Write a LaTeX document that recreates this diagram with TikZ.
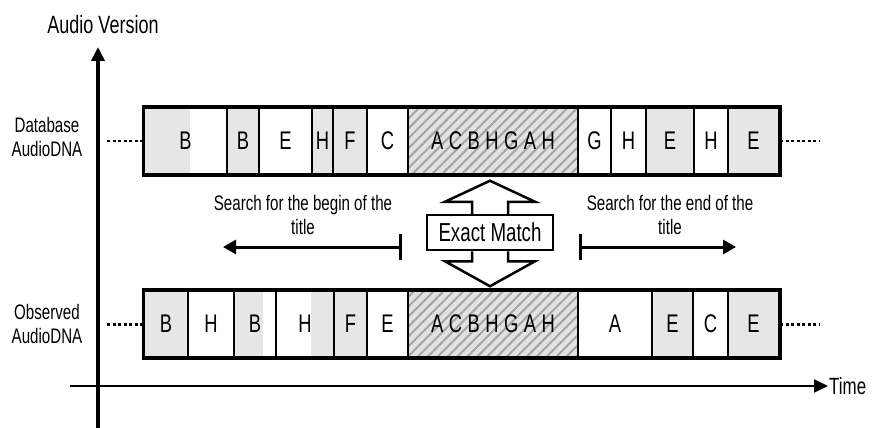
\documentclass[tikz,border=0pt]{standalone}
\usepackage{fontspec}
\setmainfont{Liberation Sans}[FakeStretch=0.72]
\usetikzlibrary{arrows.meta,patterns.meta,calc}
\definecolor{shadegray}{RGB}{230,230,230}
\definecolor{hatchbg}{RGB}{226,226,226}
\definecolor{hatchline}{RGB}{165,165,165}
\newcommand\lsp{\kern5.5pt}
\begin{document}
\begin{tikzpicture}[x=1pt,y=-1pt,
  cell/.style={draw, line width=2.2pt, minimum height=67pt, inner sep=0pt, anchor=west,
    font=\fontsize{25.5}{28}\selectfont},
  sh/.style={fill=shadegray},
  halfl/.style={path picture={\fill[shadegray] (path picture bounding box.north west) rectangle ([xshift=#1]path picture bounding box.south west);}},
  halfr/.style={path picture={\fill[shadegray] (path picture bounding box.north east) rectangle ([xshift=-#1]path picture bounding box.south east);}},
  hatch/.style={preaction={fill=hatchbg}, pattern={Lines[angle=45,distance=7pt,line width=2pt]}, pattern color=hatchline},
  frame/.style={draw, line width=3pt},
  lbl/.style={align=center, font=\fontsize{21}{24}\selectfont, inner sep=0pt},
  axisarrow/.style={-{Triangle[length=14pt,width=13pt]}},
  search/.style={line width=3pt, {Bar[width=26pt]}-{Triangle[length=13pt,width=14pt]}}
]
\useasboundingbox (0,0) rectangle (873,428);

% axes
\coordinate (yb) at (98,428);
\coordinate (yt) at (98,47);
\coordinate (xl) at (70,386);
\coordinate (xr) at (828,386);
\draw[line width=3.5pt, axisarrow] (yb) -- (yt);
\draw[line width=2pt, axisarrow] (xl) -- (xr);
\node[anchor=west, inner sep=1pt, font=\fontsize{23.5}{26}\selectfont] (time) at (828,386) {Time};
\node[font=\fontsize{25}{28}\selectfont, inner sep=0pt] (av) at (103,25) {Audio Version};

% row labels
\node[lbl] (db) at (47,137) {Database\\AudioDNA};
\node[lbl] (ob) at (47,324) {Observed\\AudioDNA};

% top row (database)
\def\ty{141}
\node[cell, minimum width=83pt, halfl=46pt] (t1) at (143,\ty) {B};
\node[cell, minimum width=32pt, sh] (t2) at (226,\ty) {B};
\node[cell, minimum width=53pt] (t3) at (258,\ty) {E};
\node[cell, minimum width=21pt, sh] (t4) at (311,\ty) {H};
\node[cell, minimum width=34pt, sh] (t5) at (332,\ty) {F};
\node[cell, minimum width=41pt] (t6) at (366,\ty) {C};
\node[cell, minimum width=170pt, hatch] (t7) at (407,\ty) {A\lsp C\lsp B\lsp H\lsp G\lsp A\lsp H};
\node[cell, minimum width=33pt] (t8) at (577,\ty) {G};
\node[cell, minimum width=35pt] (t9) at (610,\ty) {H};
\node[cell, minimum width=48pt, sh] (t10) at (645,\ty) {E};
\node[cell, minimum width=34pt] (t11) at (693,\ty) {H};
\node[cell, minimum width=51pt, sh] (t12) at (727,\ty) {E};
\draw[frame] (t1.north west) rectangle (t12.south east);

% bottom row (observed)
\def\by{324}
\node[cell, minimum width=44pt, sh] (b1) at (143,\by) {B};
\node[cell, minimum width=46pt] (b2) at (187,\by) {H};
\node[cell, minimum width=42pt, halfl=29pt] (b3) at (233,\by) {B};
\node[cell, minimum width=58pt, halfr=23pt] (b4) at (275,\by) {H};
\node[cell, minimum width=33pt, sh] (b5) at (333,\by) {F};
\node[cell, minimum width=41pt] (b6) at (366,\by) {E};
\node[cell, minimum width=170pt, hatch] (b7) at (407,\by) {A\lsp C\lsp B\lsp H\lsp G\lsp A\lsp H};
\node[cell, minimum width=74pt] (b8) at (577,\by) {A};
\node[cell, minimum width=41pt, sh] (b9) at (651,\by) {E};
\node[cell, minimum width=35pt] (b10) at (692,\by) {C};
\node[cell, minimum width=51pt, sh] (b11) at (727,\by) {E};
\draw[frame] (b1.north west) rectangle (b11.south east);

% continuation lines
\coordinate (tl) at (107,\ty);
\coordinate (tr) at (819,\ty);
\coordinate (bl) at (107,\by);
\coordinate (br) at (819,\by);
\draw[line width=1.3pt, dash pattern=on 3pt off 2.5pt] (tl) -- (t1.west);
\draw[line width=1.3pt, dash pattern=on 3pt off 2.5pt] (t12.east) -- (tr);
\draw[line width=3pt, dash pattern=on 3pt off 2.5pt] (bl) -- (b1.west);
\draw[line width=3pt, dash pattern=on 3pt off 2.5pt] (b11.east) -- (br);

% exact match
\node[draw, line width=2.5pt, fill=white, minimum width=126pt, minimum height=35pt, inner sep=0pt,
  font=\fontsize{26}{28}\selectfont] (em) at (490,232.5) {Exact Match};
\draw[line width=2.5pt, fill=white, line join=miter]
  ($(em.north)+(-18,0)$) -- ($(em.north)+(-18,-12)$) -- ($(em.north)+(-45,-12)$) --
  ($(em.north)+(0,-33)$) -- ($(em.north)+(45,-12)$) -- ($(em.north)+(18,-12)$) -- ($(em.north)+(18,0)$);
\draw[line width=2.5pt, fill=white, line join=miter]
  ($(em.south)+(-18,0)$) -- ($(em.south)+(-18,10)$) -- ($(em.south)+(-45,10)$) --
  ($(em.south)+(0,35)$) -- ($(em.south)+(45,10)$) -- ($(em.south)+(18,10)$) -- ($(em.south)+(18,0)$);

% search arrows
\node[lbl] (sl) at (303,215) {Search for the begin of the\\title};
\node[lbl] (sr) at (670,215) {Search for the end of the\\title};
\coordinate (lb) at (402,247);
\coordinate (lt) at (223,247);
\coordinate (rb) at (579,247);
\coordinate (rt) at (736,247);
\draw[search] (lb) -- (lt);
\draw[search] (rb) -- (rt);
\end{tikzpicture}
\end{document}
